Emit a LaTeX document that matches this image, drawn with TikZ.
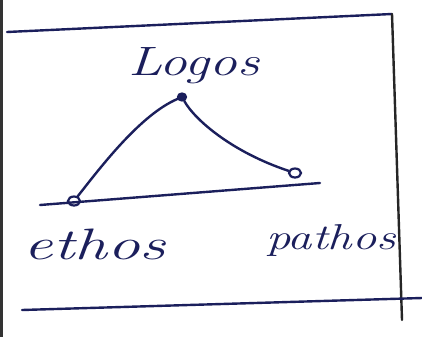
\documentclass[tikz,border=0pt]{standalone}
\usepackage{tikz}
\usetikzlibrary{shapes.geometric}
\definecolor{ink}{HTML}{1B1F5C}
\begin{document}
\begin{tikzpicture}[x=1pt,y=-1pt,
  pen/.style={draw=ink,line width=2.4pt,line cap=round,line join=round},
  dot/.style={ellipse,draw=ink,line width=2.2pt,minimum width=12pt,minimum height=9pt,inner sep=0pt},
  hand/.style={text=ink,inner sep=0pt,xscale=1.35}]
\useasboundingbox[fill=white] (0,0) rectangle (422,337);
% frame
\draw[draw=black!80,line width=2.5pt] (1.5,0) -- (1.5,337);
\coordinate (tl) at (7,32);
\coordinate (tr) at (392,14);
\coordinate (br) at (402,320);
\coordinate (bl) at (22,310);
\coordinate (be) at (422,298);
\draw[pen] (tl) -- (tr);
\draw[pen,draw=black!85] (tr) -- (br);
\draw[pen] (bl) -- (be);
% base line
\coordinate (b1) at (40,205);
\coordinate (b2) at (320,183);
\draw[pen] (b1) -- (b2);
% points
\node[dot,fill=ink,minimum width=8pt,minimum height=7pt] (lg) at (182,97) {};
\node[dot] (eth) at (74,201) {};
\node[dot] (pat) at (295,173) {};
% connectors
\draw[pen] (eth) .. controls (100,168) and (140,115) .. (lg);
\draw[pen] (lg) .. controls (195,120) and (232,152) .. (pat);
% labels
\node[hand,font=\fontsize{41}{46}\selectfont\itshape] (tlogos) at (194,66) {Logos};
\node[hand,xscale=1.1,font=\fontsize{44}{50}\selectfont\itshape] (tethos) at (95,244) {ethos};
\node[hand,font=\fontsize{36}{42}\selectfont\itshape] (tpathos) at (331,240) {pathos};
\end{tikzpicture}
\end{document}
